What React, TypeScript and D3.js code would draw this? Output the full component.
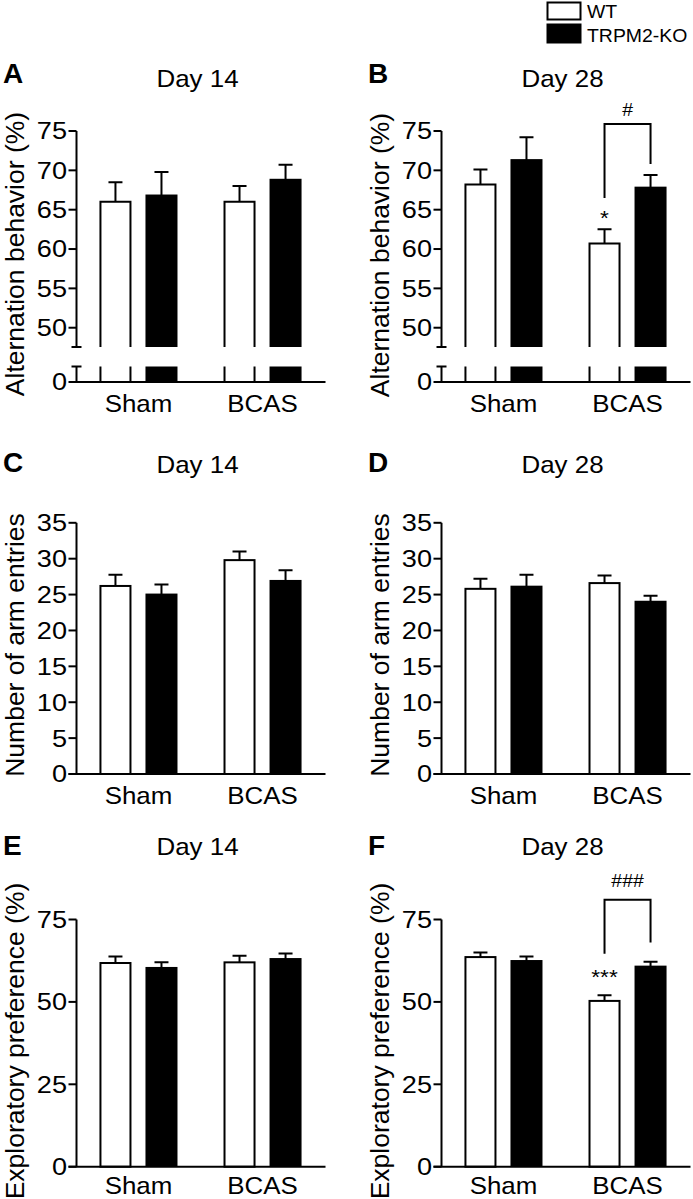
import React from 'react';
import * as d3 from 'd3';

const groups = ['Sham', 'BCAS'];
const seriesNames = ['WT', 'TRPM2-KO'];

// Panel A: Alternation behavior, Day 14
const altD14WT = [66.0, 66.0];
const altD14WTErr = [2.5, 2.0];
const altD14KO = [66.8, 68.8];
const altD14KOErr = [3.0, 1.9];
// Panel B: Alternation behavior, Day 28
const altD28WT = [68.2, 60.7];
const altD28WTErr = [1.9, 1.8];
const altD28KO = [71.3, 67.8];
const altD28KOErr = [2.9, 1.6];
// Panel C: Number of arm entries, Day 14
const armD14WT = [26.2, 29.8];
const armD14WTErr = [1.55, 1.2];
const armD14KO = [25.0, 26.9];
const armD14KOErr = [1.4, 1.5];
// Panel D: Number of arm entries, Day 28
const armD28WT = [25.8, 26.6];
const armD28WTErr = [1.4, 1.05];
const armD28KO = [26.1, 24.0];
const armD28KOErr = [1.65, 0.85];
// Panel E: Exploratory preference, Day 14
const expD14WT = [61.8, 62.0];
const expD14WTErr = [2.0, 2.0];
const expD14KO = [60.3, 63.0];
const expD14KOErr = [1.7, 1.7];
// Panel F: Exploratory preference, Day 28
const expD28WT = [63.6, 50.3];
const expD28WTErr = [1.4, 1.7];
const expD28KO = [62.4, 60.7];
const expD28KOErr = [1.4, 1.5];

const altTicks = [50, 55, 60, 65, 70, 75];
const armTicks = [0, 5, 10, 15, 20, 25, 30, 35];
const expTicks = [0, 25, 50, 75];

const FONT = '"Liberation Sans", Arial, Helvetica, sans-serif';
const SW = 2;

type STextProps = {
  x: number; y: number; sx?: number; size: number; anchor?: 'start' | 'middle' | 'end';
  dy?: string; weight?: string; children: React.ReactNode;
};

function SText({ x, y, sx = 1.08, size, anchor = 'start', dy, weight, children }: STextProps) {
  return (
    <text transform={`translate(${x},${y}) scale(${sx},1)`} textAnchor={anchor} dy={dy}
      fontSize={size} fontWeight={weight} fontFamily={FONT}>{children}</text>
  );
}

type Annot = {
  star: string; starVal: number; hash: string; hashVal: number;
  leftBottom: number; top: number; rightBottom: number;
};

type PanelProps = {
  ox: number; letter: string; title: string; yLabel: string;
  rowTitleY: number; rowLetterY: number; labelY: number; catDy: number;
  domain: [number, number]; range: [number, number]; ticks: number[];
  broken?: boolean; zeroY?: number; breakY?: number;
  wt: number[]; wtErr: number[]; ko: number[]; koErr: number[];
  annot?: Annot;
};

function Panel(p: PanelProps) {
  const { ox } = p;
  const x0 = d3.scaleBand<string>().domain(groups).range([ox, ox + 248]).paddingInner(0.371).paddingOuter(0.185);
  const x1 = d3.scaleBand<string>().domain(seriesNames).range([0, x0.bandwidth()]).paddingInner(0.3043);
  const y = d3.scaleLinear().domain(p.domain).range(p.range);
  const baseY = p.broken ? p.range[0] : y(0);
  const zeroY = p.broken ? (p.zeroY as number) : y(0);
  const breakY = p.breakY as number;
  const vals = [p.wt, p.ko];
  const errs = [p.wtErr, p.koErr];
  const bars: React.ReactNode[] = [];
  groups.forEach((g, gi) => {
    seriesNames.forEach((s, si) => {
      const bx = (x0(g) as number) + (x1(s) as number);
      const bw = x1.bandwidth();
      const v = vals[si][gi];
      const e = errs[si][gi];
      const top = y(v);
      const cx = bx + bw / 2;
      const key = g + s;
      if (si === 0) {
        if (p.broken) {
          bars.push(
            <g key={key}>
              <rect x={bx + 1} y={top} width={bw - 2} height={baseY - top} fill="#fff" />
              <path d={`M${bx + 1},${baseY}V${top}H${bx + bw - 1}V${baseY}`} fill="none" stroke="#000" strokeWidth={SW} />
              <path d={`M${bx + 1},${breakY}V${zeroY}M${bx + bw - 1},${breakY}V${zeroY}`} fill="none" stroke="#000" strokeWidth={SW} />
            </g>
          );
        } else {
          bars.push(
            <rect key={key} x={bx + 1} y={top} width={bw - 2} height={baseY - top} fill="#fff" stroke="#000" strokeWidth={SW} />
          );
        }
      } else {
        bars.push(
          <g key={key}>
            <rect x={bx} y={top - 1} width={bw} height={baseY - top + 1} fill="#000" />
            {p.broken && <rect x={bx} y={breakY} width={bw} height={zeroY - breakY} fill="#000" />}
          </g>
        );
      }
      const ey = y(v + e);
      bars.push(
        <path key={key + 'err'} d={`M${cx},${top}V${ey}M${cx - 7},${ey}H${cx + 7}`} fill="none" stroke="#000" strokeWidth={SW} />
      );
    });
  });

  const a = p.annot;
  let annot: React.ReactNode = null;
  if (a) {
    const lx = (x0('BCAS') as number) + (x1('WT') as number) + x1.bandwidth() / 2;
    const rx = (x0('BCAS') as number) + (x1('TRPM2-KO') as number) + x1.bandwidth() / 2;
    annot = (
      <g>
        <path d={`M${lx},${y(a.leftBottom)}V${y(a.top)}H${rx}V${y(a.rightBottom)}`} fill="none" stroke="#000" strokeWidth={SW} />
        <SText x={lx} y={y(a.starVal)} anchor="middle" size={21}>{a.star}</SText>
        <SText x={(lx + rx) / 2} y={y(a.hashVal)} anchor="middle" size={18}>{a.hash}</SText>
      </g>
    );
  }

  const yTop = p.range[1];
  const axisBottom = p.broken ? baseY : zeroY;

  return (
    <g>
      <SText x={ox - 73.5} y={p.rowLetterY} size={28} weight="bold" sx={1}>{p.letter}</SText>
      <SText x={ox + 121} y={p.rowTitleY} anchor="middle" size={24}>{p.title}</SText>
      <text transform={`translate(${ox - 52.5},${p.labelY}) rotate(-90)`} textAnchor="middle" fontSize={26.5} fontFamily={FONT}>{p.yLabel}</text>
      {bars}
      {annot}
      {/* y axis */}
      <path d={`M${ox},${yTop}V${axisBottom}`} stroke="#000" strokeWidth={SW} fill="none" />
      {p.ticks.map((t) => (
        <g key={'t' + t}>
          <path d={`M${ox - 8},${y(t)}H${ox}`} stroke="#000" strokeWidth={SW} />
          <SText x={ox - 9.5} y={y(t)} dy="0.35em" anchor="end" size={24} sx={1.13}>{t}</SText>
        </g>
      ))}
      {p.broken && (
        <g>
          <path d={`M${ox - 5},${baseY}H${ox + 5}`} stroke="#000" strokeWidth={SW} />
          <path d={`M${ox - 5},${breakY}H${ox + 5}`} stroke="#000" strokeWidth={SW} />
          <path d={`M${ox},${breakY}V${zeroY}`} stroke="#000" strokeWidth={SW} />
          <SText x={ox - 9.5} y={zeroY} dy="0.35em" anchor="end" size={24} sx={1.13}>0</SText>
        </g>
      )}
      {/* x axis */}
      <path d={`M${ox - 8},${zeroY}H${ox + 249}`} stroke="#000" strokeWidth={SW} />
      {groups.map((g) => (
        <SText key={'g' + g} x={(x0(g) as number) + x0.bandwidth() / 2} y={zeroY + p.catDy} anchor="middle" size={24}>{g}</SText>
      ))}
    </g>
  );
}

export default function App() {
  const L = 76.5;
  const R = 441.5;
  const altDomain: [number, number] = [47.55, 75];
  const altRange: [number, number] = [347, 131];
  const armDomain: [number, number] = [0, 35];
  const armRange: [number, number] = [774, 522.8];
  const expDomain: [number, number] = [0, 75];
  const expRange: [number, number] = [1166.7, 919.5];
  return (
    <svg width={693} height={1199} style={{ position: 'absolute', left: 0, top: 0, background: '#fff' }}>
      <rect x={0} y={0} width={693} height={1199} fill="#fff" />
      {/* legend */}
      <rect x={547.5} y={2.5} width={33} height={17} fill="#fff" stroke="#000" strokeWidth={SW} />
      <SText x={587} y={17.5} size={18}>{seriesNames[0]}</SText>
      <rect x={546.5} y={23.5} width={35} height={20} fill="#000" />
      <SText x={587} y={42} size={18}>{seriesNames[1]}</SText>

      <Panel ox={L} letter="A" title="Day 14" yLabel="Alternation behavior (%)" rowTitleY={87} rowLetterY={83} labelY={254} catDy={29.5}
        domain={altDomain} range={altRange} ticks={altTicks} broken zeroY={382} breakY={366.5}
        wt={altD14WT} wtErr={altD14WTErr} ko={altD14KO} koErr={altD14KOErr} />
      <Panel ox={R} letter="B" title="Day 28" yLabel="Alternation behavior (%)" rowTitleY={87} rowLetterY={83} labelY={255} catDy={29.5}
        domain={altDomain} range={altRange} ticks={altTicks} broken zeroY={382} breakY={366.5}
        wt={altD28WT} wtErr={altD28WTErr} ko={altD28KO} koErr={altD28KOErr}
        annot={{ star: '*', starVal: 63.1, hash: '#', hashVal: 76.96, leftBottom: 66.5, top: 75.9, rightBottom: 70.8 }} />
      <Panel ox={L} letter="C" title="Day 14" yLabel="Number of arm entries" rowTitleY={473} rowLetterY={472} labelY={645} catDy={29.5}
        domain={armDomain} range={armRange} ticks={armTicks}
        wt={armD14WT} wtErr={armD14WTErr} ko={armD14KO} koErr={armD14KOErr} />
      <Panel ox={R} letter="D" title="Day 28" yLabel="Number of arm entries" rowTitleY={473} rowLetterY={472} labelY={645} catDy={29.5}
        domain={armDomain} range={armRange} ticks={armTicks}
        wt={armD28WT} wtErr={armD28WTErr} ko={armD28KO} koErr={armD28KOErr} />
      <Panel ox={L} letter="E" title="Day 14" yLabel="Exploratory preference (%)" rowTitleY={855} rowLetterY={855} labelY={1041} catDy={27.5}
        domain={expDomain} range={expRange} ticks={expTicks}
        wt={expD14WT} wtErr={expD14WTErr} ko={expD14KO} koErr={expD14KOErr} />
      <Panel ox={R} letter="F" title="Day 28" yLabel="Exploratory preference (%)" rowTitleY={855} rowLetterY={855} labelY={1041} catDy={27.5}
        domain={expDomain} range={expRange} ticks={expTicks}
        wt={expD28WT} wtErr={expD28WTErr} ko={expD28KO} koErr={expD28KOErr}
        annot={{ star: '***', starVal: 55.4, hash: '###', hashVal: 84.8, leftBottom: 64.6, top: 81.0, rightBottom: 68.0 }} />
    </svg>
  );
}
